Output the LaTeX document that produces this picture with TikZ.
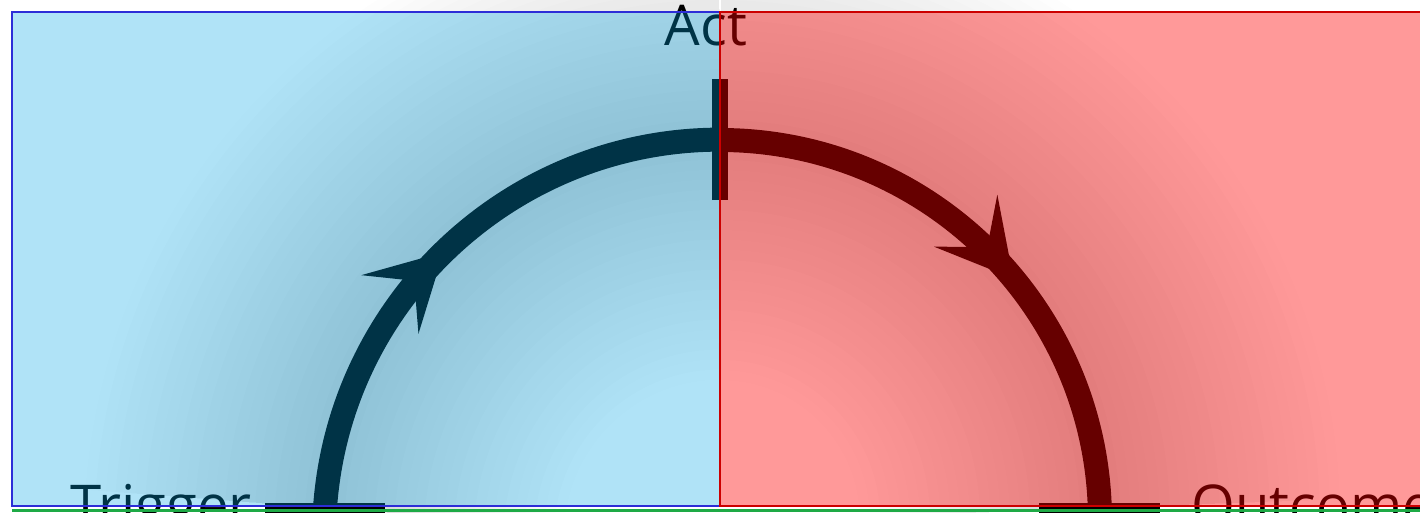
\documentclass[tikz,border=0pt]{standalone}
\usepackage{fontspec}
\setmainfont{Open Sans}
\usetikzlibrary{arrows.meta,decorations.markings}

\definecolor{tintblue}{RGB}{0,165,229}
\definecolor{tintred}{RGB}{255,0,0}
\definecolor{edgeblue}{RGB}{45,45,215}
\definecolor{edgered}{RGB}{204,0,0}
\definecolor{groundgreen}{RGB}{30,170,70}

\tikzset{
	halo/.style={black, opacity=0.007, line width=#1},
	flow/.style={black, line width=0.48cm},
	flowtip/.style={postaction={decorate}, decoration={markings, mark=at position #1 with {\arrow{Stealth[length=1.5cm, width=1.64cm, inset=0.68cm, line width=0pt]}}}},
	tag/.style={font=\fontsize{32}{38}\selectfont, inner sep=0pt, text=black},
}

\begin{document}
\begin{tikzpicture}[x=0.02cm, y=0.02cm]
			\useasboundingbox (0,0) rectangle (1420,512);
			\clip (0,0) rectangle (1420,512);
			\coordinate (trigpt) at (325,4);
			\coordinate (actpt) at (720,372);
			\coordinate (outpt) at (1100,4);
			\foreach \i in {1,...,24} {
				\draw[halo=\i*0.4cm] (trigpt) arc[start angle=176, end angle=90, radius=396];
				\draw[halo=\i*0.4cm] (actpt) arc[start angle=90, end angle=1.8, radius=380];
			}
			\draw[flow, flowtip=0.485] (trigpt) arc[start angle=176, end angle=90, radius=396];
			\draw[flow, flowtip=0.573] (actpt) arc[start angle=90, end angle=1.8, radius=380];
			\draw[line width=0.32cm] (720,312) -- (720,433);
			\draw[line width=0.2cm] (265,4) -- (385,4);
			\draw[line width=0.2cm] (1039,4) -- (1160,4);
			\node[tag, anchor=base] (act) at (706,467) {Act};
			\node[tag, anchor=base east] (trig) at (252,-13) {Trigger};
			\node[tag, anchor=base west] (out) at (1191,-13) {Outcome};
			\fill[tintblue, fill opacity=0.31] (12,6) rectangle (720,500);
			\fill[tintred, fill opacity=0.4] (720,6) rectangle (1440,500);
			\draw[edgeblue, line width=0.04cm] (12,6) rectangle (720,500);
			\draw[edgered, line width=0.04cm] (720,6) rectangle (1440,500);
			\draw[groundgreen, line width=0.06cm] (12,1.5) -- (1420,1.5);
\end{tikzpicture}
\end{document}
